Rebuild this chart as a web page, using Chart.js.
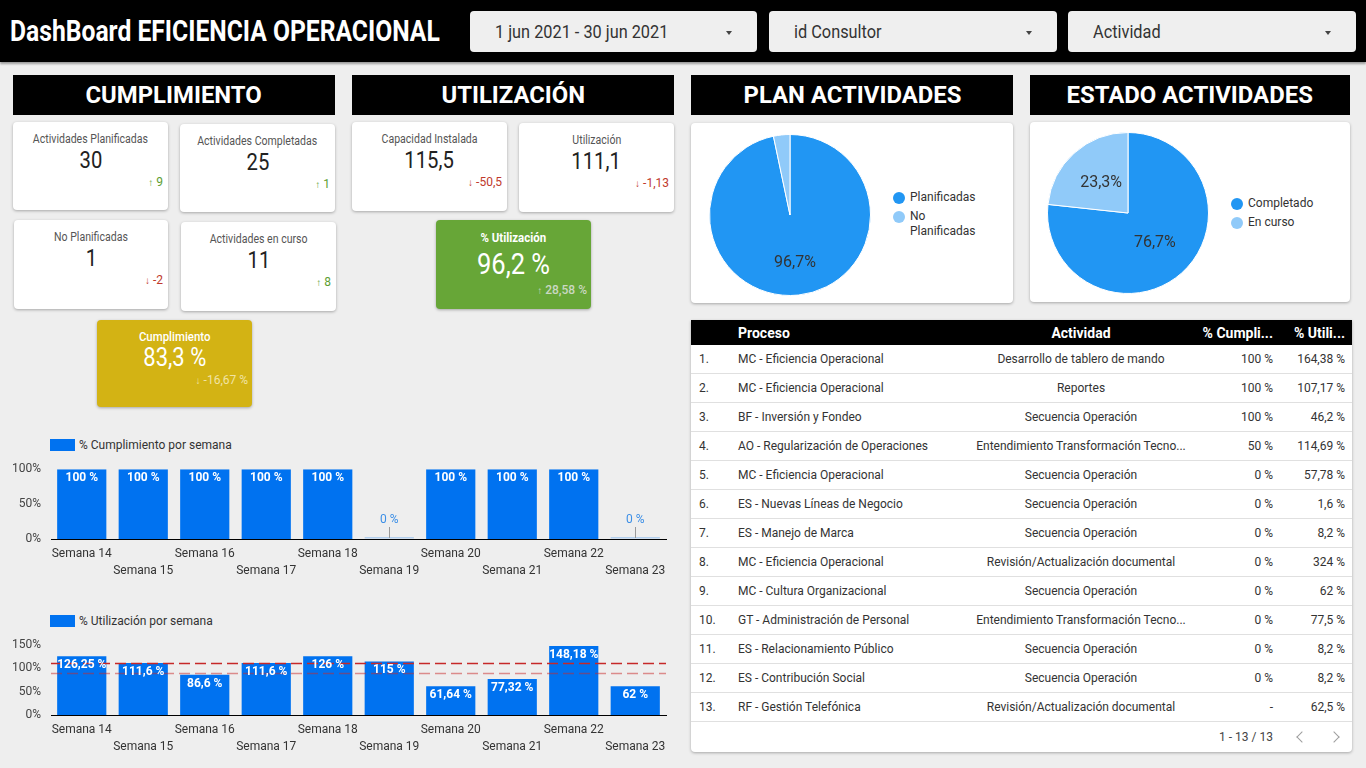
<!DOCTYPE html>
<html lang="es">
<head>
<meta charset="utf-8">
<title>DashBoard EFICIENCIA OPERACIONAL</title>
<script src="https://cdn.jsdelivr.net/npm/chart.js@4.4.1/dist/chart.umd.min.js"></script>
<style>
  body { margin:0; width:1366px; height:768px; background:#eeeeee; font-family: Roboto, 'Noto Sans', sans-serif; color:#333; position:relative; overflow:hidden; }
  .abs { position:absolute; }
  .fit { display:inline-block; white-space:nowrap; }
  .c { display:inline-block; white-space:nowrap; transform:scaleX(0.88); }
  #header { left:0; top:0; width:1366px; height:62px; background:#000; box-shadow:0 2px 2px rgba(0,0,0,0.35); }
  #titulo { left:10px; top:13px; color:#fff; font-weight:700; font-size:30px; line-height:36px; transform-origin:left center; }
  .filtro { top:11px; height:41px; background:#efefef; border-radius:4px; }
  .filtro span { position:absolute; left:25px; top:10px; font-size:18px; line-height:21px; color:#333; transform-origin:left center; }
  .filtro i { position:absolute; right:25px; top:20px; width:0; height:0; border-left:3px solid transparent; border-right:3px solid transparent; border-top:4px solid #444; }
  .seccion { top:75px; height:40px; background:#000; color:#fff; font-weight:700; font-size:24px; line-height:40px; text-align:center; }
  .seccion span { transform-origin:center; }
  .card { background:#fff; border-radius:4px; box-shadow:0 1px 3px rgba(0,0,0,0.3); text-align:center; }
  .card .t { position:absolute; left:0; right:0; top:9px; font-size:12px; line-height:16px; color:#555; }
  .card .v { position:absolute; left:0; right:0; top:25px; font-size:23px; line-height:28px; color:#222; }
  .card .d { position:absolute; right:5px; top:53px; font-size:12px; line-height:14px; }
  .d b { font-size:10px; margin-right:3px; }
  .up { color:#5d9e31; }
  .down { color:#c0392b; }
  .color .t { color:#fff; font-weight:500; font-size:13px; }
  .color .v { color:#fff; }
  .leyenda { font-size:12px; color:#333; }
  .leyenda .item { display:flex; align-items:flex-start; margin-bottom:4px; }
  .leyenda .dot { width:12px; height:12px; border-radius:50%; margin-top:1.5px; margin-right:5px; flex:none; }
  .leyenda .txt { line-height:15px; max-width:72px; }
  .leyBar { font-size:12px; color:#333; line-height:14px; display:flex; align-items:center; }
  .leyBar i { display:inline-block; width:25px; height:12px; background:#0072f0; margin-right:4px; }
  #tabla { left:691px; top:320px; width:661px; height:432px; background:#fff; box-shadow:0 1px 3px rgba(0,0,0,0.3); border-radius:0 0 4px 4px; }
  #tabla table { border-collapse:collapse; table-layout:fixed; width:661px; font-size:12px; color:#333; }
  #tabla th { background:#000; color:#fff; font-weight:700; font-size:14px; height:25px; padding:0 8px; white-space:nowrap; }
  #tabla td { height:28px; border-bottom:1px solid #e0e0e0; padding:0 8px; white-space:nowrap; }
  #tabla td.m, #tabla th.m { padding:0; overflow:visible; }
  .l { text-align:left; } .m { text-align:center; } .r { text-align:right; }
  #pie { position:absolute; left:0; right:0; bottom:0; height:30px; font-size:12px; color:#444; }
  .flecha { position:absolute; top:11px; width:7px; height:7px; border-left:1.5px solid #9e9e9e; border-bottom:1.5px solid #9e9e9e; }
</style>
</head>
<body>

<div id="header" class="abs"></div>
<div id="titulo" class="abs fit" data-w="430">DashBoard EFICIENCIA OPERACIONAL</div>
<div class="abs filtro" style="left:470px;width:287px"><span class="fit" data-w="173">1 jun 2021 - 30 jun 2021</span><i></i></div>
<div class="abs filtro" style="left:769px;width:288px"><span class="fit" data-w="88">id Consultor</span><i></i></div>
<div class="abs filtro" style="left:1068px;width:288px"><span class="fit" data-w="68">Actividad</span><i></i></div>

<div class="abs seccion" style="left:13px;width:322px"><span class="fit" data-w="176">CUMPLIMIENTO</span></div>
<div class="abs seccion" style="left:352px;width:322px"><span class="fit" data-w="144">UTILIZACIÓN</span></div>
<div class="abs seccion" style="left:691px;width:322px"><span class="fit" data-w="218">PLAN ACTIVIDADES</span></div>
<div class="abs seccion" style="left:1030px;width:320px"><span class="fit" data-w="246">ESTADO ACTIVIDADES</span></div>

<!-- Cumplimiento -->
<div class="abs card" style="left:13px;top:122px;width:155px;height:88px">
  <div class="t"><span class="c">Actividades Planificadas</span></div>
  <div class="v"><span class="c">30</span></div>
  <div class="d up"><b>↑</b>9</div>
</div>
<div class="abs card" style="left:180px;top:124px;width:155px;height:88px">
  <div class="t"><span class="c">Actividades Completadas</span></div>
  <div class="v"><span class="c">25</span></div>
  <div class="d up"><b>↑</b>1</div>
</div>
<div class="abs card" style="left:14px;top:220px;width:154px;height:89px">
  <div class="t"><span class="c">No Planificadas</span></div>
  <div class="v"><span class="c">1</span></div>
  <div class="d down"><b>↓</b>-2</div>
</div>
<div class="abs card" style="left:181px;top:222px;width:155px;height:89px">
  <div class="t"><span class="c">Actividades en curso</span></div>
  <div class="v"><span class="c">11</span></div>
  <div class="d up"><b>↑</b>8</div>
</div>
<div class="abs card color" style="left:97px;top:320px;width:155px;height:87px;background:#d3b314">
  <div class="t"><span class="c">Cumplimiento</span></div>
  <div class="v" style="top:23px;font-size:25px;line-height:30px"><span class="c">83,3 %</span></div>
  <div class="d" style="color:#f1e3a4;right:4px"><b>↓</b>-16,67 %</div>
</div>

<!-- Utilizacion -->
<div class="abs card" style="left:352px;top:122px;width:155px;height:89px">
  <div class="t"><span class="c">Capacidad Instalada</span></div>
  <div class="v"><span class="c">115,5</span></div>
  <div class="d down"><b>↓</b>-50,5</div>
</div>
<div class="abs card" style="left:519px;top:123px;width:155px;height:89px">
  <div class="t"><span class="c">Utilización</span></div>
  <div class="v"><span class="c">111,1</span></div>
  <div class="d down"><b>↓</b>-1,13</div>
</div>
<div class="abs card color" style="left:436px;top:220px;width:155px;height:89px;background:#67a637">
  <div class="t" style="top:10px;font-weight:700"><span class="c">% Utilización</span></div>
  <div class="v" style="top:28px;font-size:29px;line-height:32px"><span class="c">96,2 %</span></div>
  <div class="d" style="color:#cbd8c2;top:63px;right:4px;font-weight:500"><b>↑</b>28,58 %</div>
</div>

<!-- graficos de barras -->
<div class="abs leyBar" style="left:50px;top:438px"><i></i><span>% Cumplimiento por semana</span></div>
<canvas id="barCumplimiento" class="abs" width="670" height="130" style="left:0;top:452px"></canvas>
<div class="abs leyBar" style="left:50px;top:614px"><i></i><span>% Utilización por semana</span></div>
<canvas id="barUtilizacion" class="abs" width="670" height="130" style="left:0;top:628px"></canvas>

<!-- tortas -->
<div class="abs card" style="left:691px;top:123px;width:322px;height:180px"></div>
<canvas id="piePlan" class="abs" width="162" height="162" style="left:709px;top:134px"></canvas>
<div id="leyPlan" class="abs leyenda" style="left:893px;top:190px"></div>
<div class="abs card" style="left:1030px;top:122px;width:320px;height:180px"></div>
<canvas id="pieEstado" class="abs" width="162" height="162" style="left:1047px;top:132px"></canvas>
<div id="leyEstado" class="abs leyenda" style="left:1231px;top:196px"></div>

<!-- tabla -->
<div id="tabla" class="abs">
  <table>
    <colgroup><col style="width:39px"><col style="width:245px"><col style="width:212px"><col style="width:94px"><col style="width:71px"></colgroup>
    <thead><tr><th></th><th class="l">Proceso</th><th class="m">Actividad</th><th class="r">% Cumpli...</th><th class="r" style="padding-right:7px">% Utili...</th></tr></thead>
    <tbody id="filas"></tbody>
  </table>
  <div id="pie">
    <span style="position:absolute;right:79px;top:8px">1 - 13 / 13</span>
    <span class="flecha" style="right:46px;transform:rotate(45deg)"></span>
    <span class="flecha" style="right:14px;transform:rotate(-135deg)"></span>
  </div>
</div>

<script>
// === Datos ===
const semanas = ['Semana 14', 'Semana 15', 'Semana 16', 'Semana 17', 'Semana 18', 'Semana 19', 'Semana 20', 'Semana 21', 'Semana 22', 'Semana 23'];
const cumplimientoSemana = [100, 100, 100, 100, 100, 0, 100, 100, 100, 0];
const utilizacionSemana = [126.25, 111.6, 86.6, 111.6, 126, 115, 61.64, 77.32, 148.18, 62];
const lineasUtilizacion = [111.1, 91];
const ticksCumplimiento = [0, 50, 100];
const ticksUtilizacion = [0, 50, 100, 150];

const planLabels = ['Planificadas', 'No Planificadas'];
const planValores = [96.7, 3.3];
const estadoLabels = ['Completado', 'En curso'];
const estadoValores = [76.7, 23.3];
const coloresPie = ['#2196f3', '#90caf9'];

const procesos = ['MC - Eficiencia Operacional', 'MC - Eficiencia Operacional', 'BF - Inversión y Fondeo', 'AO - Regularización de Operaciones', 'MC - Eficiencia Operacional', 'ES - Nuevas Líneas de Negocio', 'ES - Manejo de Marca', 'MC - Eficiencia Operacional', 'MC - Cultura Organizacional', 'GT - Administración de Personal', 'ES - Relacionamiento Público', 'ES - Contribución Social', 'RF - Gestión Telefónica'];
const actividades = ['Desarrollo de tablero de mando', 'Reportes', 'Secuencia Operación', 'Entendimiento Transformación Tecno...', 'Secuencia Operación', 'Secuencia Operación', 'Secuencia Operación', 'Revisión/Actualización documental', 'Secuencia Operación', 'Entendimiento Transformación Tecno...', 'Secuencia Operación', 'Secuencia Operación', 'Revisión/Actualización documental'];
const cumplimientoActividad = ['100 %', '100 %', '100 %', '50 %', '0 %', '0 %', '0 %', '0 %', '0 %', '0 %', '0 %', '0 %', '-'];
const utilizacionActividad = ['164,38 %', '107,17 %', '46,2 %', '114,69 %', '57,78 %', '1,6 %', '8,2 %', '324 %', '62 %', '77,5 %', '8,2 %', '8,2 %', '62,5 %'];

// === Ajuste de textos condensados ===
document.querySelectorAll('[data-w]').forEach(el => {
  const w = el.offsetWidth;
  el.style.transform = 'scaleX(' + (el.dataset.w / w) + ')';
});

// === Tabla ===
document.getElementById('filas').innerHTML = procesos.map((p, i) =>
  `<tr><td class="l">${i + 1}.</td><td class="l">${p}</td><td class="m">${actividades[i]}</td><td class="r">${cumplimientoActividad[i]}</td><td class="r" style="padding-right:7px">${utilizacionActividad[i]}</td></tr>`
).join('');

// === Leyendas de tortas ===
function leyenda(id, labels) {
  document.getElementById(id).innerHTML = labels.map((l, i) =>
    `<div class="item"><span class="dot" style="background:${coloresPie[i]}"></span><span class="txt">${l}</span></div>`
  ).join('');
}
leyenda('leyPlan', planLabels);
leyenda('leyEstado', estadoLabels);

function fmt(v) { return String(v).replace('.', ','); }

Chart.defaults.font.family = 'Roboto';

// etiquetas + lineas de referencia
const etiquetasBarras = {
  id: 'etiquetasBarras',
  afterDatasetsDraw(chart, args, opts) {
    const ctx = chart.ctx;
    const area = chart.chartArea;
    const yScale = chart.scales.y;
    (opts.lineas || []).forEach((v, i) => {
      const y = Math.round(yScale.getPixelForValue(v)) + 0.5;
      ctx.save();
      ctx.strokeStyle = opts.colores[i];
      ctx.lineWidth = 1.5;
      ctx.setLineDash([11, 5]);
      ctx.beginPath();
      ctx.moveTo(area.left, y);
      ctx.lineTo(area.right, y);
      ctx.stroke();
      ctx.restore();
    });
    ctx.save();
    ctx.textAlign = 'center';
    ctx.textBaseline = 'middle';
    const datos = chart.data.datasets[0].data;
    chart.getDatasetMeta(0).data.forEach((bar, i) => {
      const v = datos[i];
      const txt = fmt(v) + ' %';
      if (v === 0) {
        ctx.fillStyle = 'rgba(0,114,240,0.25)';
        ctx.fillRect(bar.x - bar.width / 2, bar.y - 2, bar.width, 1.5);
        ctx.fillStyle = '#3b8ee6';
        ctx.font = '12px Roboto';
        ctx.fillText(txt, bar.x, bar.y - 19);
        ctx.strokeStyle = '#999';
        ctx.lineWidth = 1;
        ctx.beginPath();
        ctx.moveTo(Math.round(bar.x) + 0.5, bar.y - 12);
        ctx.lineTo(Math.round(bar.x) + 0.5, bar.y - 1);
        ctx.stroke();
      } else {
        ctx.fillStyle = '#fff';
        ctx.font = 'bold 12px Roboto';
        ctx.fillText(txt, bar.x, bar.y + 9);
      }
    });
    ctx.restore();
  }
};

function crearBarras(id, datos, ticksY, lineas) {
  return new Chart(document.getElementById(id), {
    type: 'bar',
    data: {
      labels: semanas,
      datasets: [{ data: datos, backgroundColor: '#0072f0', categoryPercentage: 1, barPercentage: 0.8 }]
    },
    options: {
      responsive: false,
      animation: false,
      layout: { padding: { top: 11, right: 4, bottom: 3, left: 0 } },
      plugins: {
        legend: { display: false },
        tooltip: { enabled: false },
        etiquetasBarras: { lineas: lineas, colores: ['#c62828', 'rgba(200,40,40,0.5)'] }
      },
      scales: {
        x: {
          grid: { display: false, drawTicks: false },
          border: { color: '#000', width: 1 },
          ticks: {
            color: '#333', font: { size: 12, lineHeight: 1.4 }, padding: 7,
            maxRotation: 0, autoSkip: false,
            callback: (v, i) => i % 2 ? ['', semanas[i]] : semanas[i]
          },
          afterFit: s => { s.height = 40; s.paddingLeft = 0; s.paddingRight = 0; }
        },
        y: {
          min: ticksY[0], max: ticksY[ticksY.length - 1],
          grid: { display: false, drawTicks: false },
          border: { display: false },
          afterBuildTicks: s => { s.ticks = ticksY.map(v => ({ value: v })); },
          ticks: { color: '#444', font: { size: 12 }, padding: 10, callback: v => v + '%' },
          afterFit: s => { s.width = 51; }
        }
      }
    },
    plugins: [etiquetasBarras]
  });
}

crearBarras('barCumplimiento', cumplimientoSemana, ticksCumplimiento, []);
crearBarras('barUtilizacion', utilizacionSemana, ticksUtilizacion, lineasUtilizacion);

// === Tortas ===
const etiquetasPie = {
  id: 'etiquetasPie',
  afterDatasetsDraw(chart) {
    const ctx = chart.ctx;
    const datos = chart.data.datasets[0].data;
    ctx.save();
    ctx.font = '16px Roboto';
    ctx.fillStyle = '#333';
    ctx.textAlign = 'center';
    ctx.textBaseline = 'middle';
    chart.getDatasetMeta(0).data.forEach((arc, i) => {
      if (datos[i] < 5) return;
      const mid = (arc.startAngle + arc.endAngle) / 2;
      const r = arc.outerRadius * (datos[i] > 90 ? 0.6 : 0.5);
      ctx.fillText(fmt(datos[i]) + '%', arc.x + Math.cos(mid) * r, arc.y + Math.sin(mid) * r);
    });
    ctx.restore();
  }
};

function crearPie(id, labels, valores) {
  return new Chart(document.getElementById(id), {
    type: 'pie',
    data: { labels: labels, datasets: [{ data: valores, backgroundColor: coloresPie, borderColor: '#fff', borderWidth: 1 }] },
    options: {
      responsive: false,
      animation: false,
      plugins: { legend: { display: false }, tooltip: { enabled: false } }
    },
    plugins: [etiquetasPie]
  });
}

crearPie('piePlan', planLabels, planValores);
crearPie('pieEstado', estadoLabels, estadoValores);
</script>
</body>
</html>
